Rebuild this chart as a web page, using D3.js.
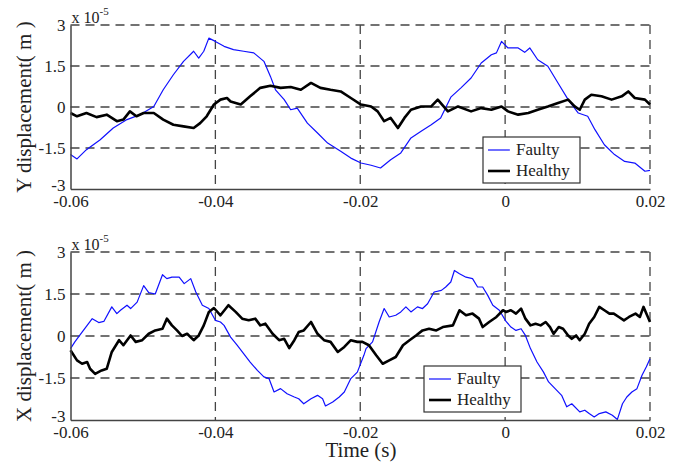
<!DOCTYPE html>
<html>
<head>
<meta charset="utf-8">
<script src="https://cdn.jsdelivr.net/npm/d3@7"></script>
<style>
  body { margin: 0; background: #fff; }
  svg { display: block; }
  text { font-family: "Liberation Serif", "Times New Roman", serif; fill: #222; }
</style>
</head>
<body>
<svg id="chart" width="686" height="466"></svg>
<script>
// ticks
const xTicks = [-0.06, -0.04, -0.02, 0, 0.02];
const yTicks = [-3, -1.5, 0, 1.5, 3];
const xTickLabels = ['-0.06', '-0.04', '-0.02', '0', '0.02'];
const yTickLabels = ['-3', '-1.5', '0', '1.5', '3'];
const seriesNames = ['Faulty', 'Healthy'];

// [time (s), displacement (x 1e-5 m)]
const yFaulty = [
  [-0.0600, -1.74], [-0.0591, -1.90], [-0.0578, -1.56], [-0.0559, -1.20], [-0.0541, -0.77],
  [-0.0522, -0.46], [-0.0504, -0.28], [-0.0485, 0.02], [-0.0472, 0.63], [-0.0458, 1.18],
  [-0.0444, 1.67], [-0.0430, 2.04], [-0.0423, 1.79], [-0.0416, 2.04], [-0.0409, 2.52],
  [-0.0400, 2.40], [-0.0388, 2.22], [-0.0375, 2.10], [-0.0361, 2.04], [-0.0347, 1.98],
  [-0.0333, 1.67], [-0.0324, 1.12], [-0.0317, 0.63], [-0.0305, 0.27], [-0.0296, -0.10],
  [-0.0287, -0.04], [-0.0273, -0.59], [-0.0259, -0.95], [-0.0245, -1.32], [-0.0227, -1.62],
  [-0.0213, -1.87], [-0.0199, -2.05], [-0.0185, -2.13], [-0.0172, -2.23], [-0.0158, -1.93],
  [-0.0144, -1.68], [-0.0130, -1.13], [-0.0116, -0.89], [-0.0102, -0.65], [-0.0089, -0.40],
  [-0.0075, 0.36], [-0.0061, 0.70], [-0.0047, 1.06], [-0.0033, 1.61], [-0.0019, 1.91],
  [-0.0012, 1.98], [-0.0005, 2.40], [0.0004, 2.16], [0.0018, 2.16], [0.0027, 2.00],
  [0.0034, 2.16], [0.0045, 1.73], [0.0059, 1.49], [0.0073, 0.88], [0.0087, 0.27],
  [0.0101, -0.22], [0.0114, -0.34], [0.0124, -0.83], [0.0137, -1.38], [0.0151, -1.74],
  [0.0165, -1.99], [0.0179, -2.05], [0.0193, -2.35], [0.0200, -2.32]
];
const yHealthy = [
  [-0.0600, -0.22], [-0.0591, -0.34], [-0.0578, -0.22], [-0.0564, -0.37], [-0.0550, -0.28],
  [-0.0536, -0.52], [-0.0527, -0.46], [-0.0518, -0.16], [-0.0509, -0.34], [-0.0499, -0.22],
  [-0.0485, -0.22], [-0.0472, -0.46], [-0.0458, -0.65], [-0.0444, -0.71], [-0.0430, -0.77],
  [-0.0421, -0.59], [-0.0412, -0.34], [-0.0402, 0.09], [-0.0393, 0.27], [-0.0384, 0.33],
  [-0.0379, 0.20], [-0.0365, 0.09], [-0.0352, 0.39], [-0.0338, 0.70], [-0.0324, 0.78],
  [-0.0310, 0.70], [-0.0296, 0.73], [-0.0282, 0.63], [-0.0268, 0.88], [-0.0255, 0.70],
  [-0.0241, 0.63], [-0.0227, 0.57], [-0.0213, 0.33], [-0.0199, 0.09], [-0.0185, 0.02],
  [-0.0176, -0.16], [-0.0167, -0.52], [-0.0158, -0.40], [-0.0148, -0.77], [-0.0139, -0.40],
  [-0.0130, -0.10], [-0.0116, 0.02], [-0.0102, 0.02], [-0.0093, 0.27], [-0.0079, -0.16],
  [-0.0065, 0.02], [-0.0047, -0.16], [-0.0033, -0.04], [-0.0019, -0.10], [-0.0005, 0.02],
  [0.0004, -0.16], [0.0018, -0.28], [0.0032, -0.22], [0.0045, -0.10], [0.0059, 0.02],
  [0.0073, 0.15], [0.0087, 0.27], [0.0096, 0.02], [0.0103, -0.10], [0.0110, 0.27],
  [0.0119, 0.45], [0.0133, 0.39], [0.0147, 0.27], [0.0161, 0.39], [0.0170, 0.57],
  [0.0179, 0.33], [0.0193, 0.27], [0.0200, 0.09]
];
const xFaulty = [
  [-0.0600, -0.45], [-0.0594, -0.21], [-0.0584, 0.14], [-0.0577, 0.38], [-0.0570, 0.62],
  [-0.0561, 0.48], [-0.0554, 0.52], [-0.0543, 1.04], [-0.0536, 0.80], [-0.0531, 0.92],
  [-0.0522, 1.10], [-0.0517, 0.98], [-0.0508, 1.21], [-0.0499, 1.80], [-0.0492, 1.55],
  [-0.0483, 1.50], [-0.0473, 2.19], [-0.0467, 2.05], [-0.0460, 2.10], [-0.0450, 2.10],
  [-0.0443, 1.87], [-0.0434, 2.05], [-0.0427, 1.57], [-0.0418, 1.10], [-0.0409, 0.98],
  [-0.0400, 0.56], [-0.0393, 0.50], [-0.0388, 0.38], [-0.0379, -0.04], [-0.0370, -0.33],
  [-0.0361, -0.63], [-0.0352, -0.93], [-0.0342, -1.23], [-0.0333, -1.46], [-0.0326, -1.52],
  [-0.0319, -2.00], [-0.0310, -1.88], [-0.0301, -2.06], [-0.0291, -2.18], [-0.0285, -2.24],
  [-0.0278, -2.42], [-0.0268, -2.24], [-0.0259, -2.12], [-0.0252, -2.24], [-0.0248, -2.50],
  [-0.0238, -2.36], [-0.0229, -2.18], [-0.0222, -2.00], [-0.0213, -1.52], [-0.0204, -1.29],
  [-0.0195, -0.69], [-0.0192, -0.45], [-0.0183, -0.21], [-0.0174, 0.50], [-0.0167, 0.98],
  [-0.0160, 0.68], [-0.0151, 0.74], [-0.0144, 0.86], [-0.0137, 1.04], [-0.0130, 0.86],
  [-0.0121, 1.04], [-0.0114, 0.98], [-0.0107, 1.15], [-0.0098, 1.57], [-0.0088, 1.63],
  [-0.0082, 1.75], [-0.0075, 1.93], [-0.0070, 2.34], [-0.0063, 2.22], [-0.0054, 2.10],
  [-0.0045, 2.05], [-0.0038, 1.75], [-0.0031, 1.75], [-0.0024, 1.45], [-0.0017, 1.10],
  [-0.0008, 0.92], [0.0001, 0.53], [0.0008, 0.32], [0.0015, 0.20], [0.0022, 0.26],
  [0.0028, 0.02], [0.0035, -0.45], [0.0044, -0.93], [0.0053, -1.29], [0.0060, -1.64],
  [0.0069, -1.88], [0.0078, -2.12], [0.0085, -2.53], [0.0092, -2.42], [0.0103, -2.71],
  [0.0110, -2.65], [0.0116, -2.77], [0.0123, -2.89], [0.0130, -2.77], [0.0139, -2.71],
  [0.0148, -2.83], [0.0155, -2.98], [0.0162, -2.42], [0.0168, -2.18], [0.0175, -2.00],
  [0.0182, -1.88], [0.0189, -1.40], [0.0195, -1.10], [0.0200, -0.81]
];
const xHealthy = [
  [-0.0600, -0.51], [-0.0591, -0.87], [-0.0584, -0.99], [-0.0577, -0.93], [-0.0573, -1.17],
  [-0.0566, -1.35], [-0.0557, -1.23], [-0.0550, -1.17], [-0.0543, -0.57], [-0.0533, -0.15],
  [-0.0527, -0.33], [-0.0517, 0.02], [-0.0510, -0.21], [-0.0501, -0.15], [-0.0492, 0.08],
  [-0.0483, 0.20], [-0.0473, 0.26], [-0.0467, 0.62], [-0.0460, 0.38], [-0.0453, 0.20],
  [-0.0446, 0.00], [-0.0439, 0.08], [-0.0430, -0.15], [-0.0423, 0.02], [-0.0416, 0.38],
  [-0.0409, 0.86], [-0.0402, 1.00], [-0.0393, 0.74], [-0.0382, 1.10], [-0.0372, 0.86],
  [-0.0363, 0.62], [-0.0354, 0.56], [-0.0345, 0.62], [-0.0338, 0.38], [-0.0331, 0.44],
  [-0.0321, 0.08], [-0.0312, -0.15], [-0.0305, -0.10], [-0.0298, -0.43], [-0.0291, -0.15],
  [-0.0285, 0.14], [-0.0278, 0.20], [-0.0268, 0.50], [-0.0259, 0.08], [-0.0250, -0.15],
  [-0.0241, -0.21], [-0.0231, -0.57], [-0.0222, -0.39], [-0.0213, -0.15], [-0.0204, -0.21],
  [-0.0197, -0.21], [-0.0188, -0.33], [-0.0178, -0.69], [-0.0169, -0.99], [-0.0160, -0.87],
  [-0.0151, -0.75], [-0.0141, -0.33], [-0.0132, -0.15], [-0.0123, 0.02], [-0.0114, 0.20],
  [-0.0105, 0.26], [-0.0095, 0.20], [-0.0086, 0.32], [-0.0072, 0.38], [-0.0063, 0.92],
  [-0.0054, 0.74], [-0.0045, 0.80], [-0.0036, 0.62], [-0.0031, 0.32], [-0.0022, 0.50],
  [-0.0012, 0.68], [-0.0003, 0.92], [0.0001, 0.86], [0.0008, 0.92], [0.0015, 0.80],
  [0.0022, 0.98], [0.0028, 0.62], [0.0035, 0.38], [0.0042, 0.44], [0.0049, 0.38],
  [0.0056, 0.50], [0.0062, 0.32], [0.0067, 0.08], [0.0074, 0.32], [0.0080, 0.26],
  [0.0087, 0.02], [0.0092, -0.10], [0.0098, 0.02], [0.0103, -0.15], [0.0110, 0.08],
  [0.0116, 0.44], [0.0123, 0.68], [0.0130, 1.04], [0.0137, 0.92], [0.0144, 0.80],
  [0.0150, 0.80], [0.0157, 0.68], [0.0164, 0.56], [0.0171, 0.68], [0.0180, 0.80],
  [0.0186, 0.68], [0.0191, 1.04], [0.0196, 0.74], [0.0200, 0.50]
];

const svg = d3.select('#chart');
const left = 70.5, right = 650;
const serif = '"Liberation Serif", "Times New Roman", serif';

const x = d3.scaleLinear().domain([-0.06, 0.02]).range([left, right]);

const panels = [
  { label: 'Y displacement( m )', top: 25, bottom: 189, data: [yFaulty, yHealthy], legend: { x: 483, y: 137 } },
  { label: 'X displacement( m )', top: 252, bottom: 420, data: [xFaulty, xHealthy], legend: { x: 424, y: 366 } }
];
const colors = ['#1010ff', '#000'];
const widths = [1.2, 2.6];

panels.forEach(p => {
  const y = d3.scaleLinear().domain([-3, 3]).range([p.bottom, p.top]);
  const g = svg.append('g');

  // dashed grid
  g.append('g').selectAll('line')
    .data(yTicks.filter(d => d > -3))
    .join('line')
    .attr('x1', left).attr('x2', right)
    .attr('y1', d => y(d)).attr('y2', d => y(d))
    .attr('stroke', '#444').attr('stroke-width', 1.3)
    .attr('stroke-dasharray', '9,6');

  g.append('g').selectAll('line')
    .data(xTicks.filter(d => d > -0.06))
    .join('line')
    .attr('x1', d => x(d)).attr('x2', d => x(d))
    .attr('y1', p.top).attr('y2', p.bottom)
    .attr('stroke', '#444').attr('stroke-width', 1.3)
    .attr('stroke-dasharray', '9,6');

  // series
  const line = d3.line().x(d => x(d[0])).y(d => y(d[1]));
  p.data.forEach((series, i) => {
    g.append('path')
      .datum(series)
      .attr('fill', 'none')
      .attr('stroke', colors[i])
      .attr('stroke-width', widths[i])
      .attr('stroke-linejoin', 'round')
      .attr('d', line);
  });

  // axes
  const xAxis = g.append('g')
    .attr('transform', `translate(0,${p.bottom})`)
    .call(d3.axisBottom(x).tickValues(xTicks)
      .tickFormat((d, i) => xTickLabels[i]).tickSize(0).tickPadding(6));
  const yAxis = g.append('g')
    .attr('transform', `translate(${left},0)`)
    .call(d3.axisLeft(y).tickValues(yTicks)
      .tickFormat((d, i) => yTickLabels[i]).tickSize(0).tickPadding(5));
  [xAxis, yAxis].forEach(a => {
    a.attr('font-family', serif);
    a.select('.domain').attr('stroke', '#444').attr('stroke-width', 1.5);
    a.selectAll('text').attr('font-size', 17).attr('font-family', serif).attr('fill', '#222');
  });
  // -3 sits a little above its tick, as in the source
  yAxis.selectAll('.tick text').filter(d => d === -3).attr('dy', '0.1em');

  // exponent
  const ex = g.append('text').attr('x', left + 1).attr('y', p.top - 2).attr('font-size', 16);
  ex.append('tspan').text('x 10');
  ex.append('tspan').attr('font-size', 11).attr('dy', -8).text('-5');

  // y label
  g.append('text')
    .attr('transform', `translate(31,${(p.top + p.bottom) / 2}) rotate(-90)`)
    .attr('text-anchor', 'middle')
    .attr('font-size', 21)
    .text(p.label);

  // legend
  const lg = g.append('g').attr('transform', `translate(${p.legend.x},${p.legend.y})`);
  lg.append('rect').attr('width', 97).attr('height', 46)
    .attr('fill', '#fff').attr('stroke', '#333').attr('stroke-width', 1.2);
  seriesNames.forEach((name, i) => {
    const ly = 13 + i * 21;
    lg.append('line').attr('x1', 5).attr('x2', 27).attr('y1', ly).attr('y2', ly)
      .attr('stroke', colors[i]).attr('stroke-width', widths[i]);
    lg.append('text').attr('x', 33).attr('y', ly + 5).attr('font-size', 17).text(name);
  });
});

svg.append('text')
  .attr('x', 361).attr('y', 457)
  .attr('text-anchor', 'middle')
  .attr('font-size', 21)
  .text('Time (s)');
</script>
</body>
</html>
